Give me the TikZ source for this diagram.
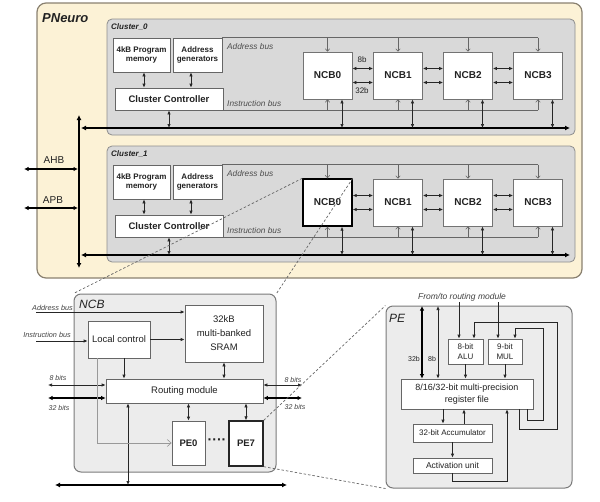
\documentclass[tikz,border=0pt]{standalone}
\usepackage{fontspec}
\setmainfont{Liberation Sans}
\usetikzlibrary{arrows.meta,calc}
\definecolor{pnfill}{HTML}{FCF2D6}
\definecolor{pndraw}{HTML}{8A8170}
\definecolor{clfill}{HTML}{D9D9D9}
\definecolor{cldraw}{HTML}{8E8E8E}
\definecolor{bxfill}{HTML}{ECECEC}
\definecolor{bxdraw}{HTML}{7A7A7A}
\definecolor{txt}{HTML}{222222}
\newcommand\myfs[1]{\fontsize{#1}{#1}\selectfont}
\tikzset{
  pnbox/.style={draw=pndraw, fill=pnfill, line width=1.2pt, rounded corners=9pt},
  clbox/.style={draw=cldraw, fill=clfill, line width=0.8pt, rounded corners=5pt},
  nbox/.style={draw=bxdraw, fill=bxfill, line width=1pt, rounded corners=7pt},
  sbox/.style={draw=black!60, fill=white, line width=0.7pt, align=center, text=txt, font=\bfseries\fontsize{8}{9}\selectfont, inner sep=1pt},
  ccbox/.style={draw=black!60, fill=white, line width=0.7pt, text=txt, font=\bfseries\myfs{9.5}, inner sep=1pt},
  ncbbox/.style={draw=black!55, fill=white, line width=0.7pt, text=txt, minimum width=49, minimum height=47, font=\bfseries\myfs{10}},
  ibox/.style={draw=black!60, fill=white, line width=0.7pt, align=center, text=txt, font=\fontsize{9.5}{14}\selectfont, inner sep=1pt},
  pbox/.style={draw=black!60, fill=white, line width=0.7pt, text=txt, font=\bfseries\myfs{9.5}, inner sep=1pt},
  qbox/.style={draw=black!60, fill=white, line width=0.7pt, align=center, text=txt, font=\fontsize{8}{10}\selectfont, inner sep=1pt},
  cllab/.style={anchor=west, text=txt, font=\bfseries\itshape\myfs{8}, inner sep=0},
  seclab/.style={anchor=west, text=txt, font=\itshape\myfs{12}, inner sep=0},
  pnlab/.style={anchor=west, text=txt, font=\bfseries\itshape\myfs{13}, inner sep=0},
  buslab/.style={anchor=west, text=black!70, font=\itshape\myfs{8.3}, inner sep=0},
  lbl/.style={text=black!75, font=\itshape\myfs{7.3}, inner sep=0},
  plain/.style={text=txt, font=\myfs{10}, inner sep=0},
  bl/.style={draw=black!60, line width=0.6pt},
  barb/.style={-{Straight Barb[length=2.5pt,width=4.5pt]}},
  arr/.style={draw=black!85, line width=0.7pt, {Latex[length=4pt,width=3.4pt]}-{Latex[length=4pt,width=3.4pt]}},
  arrs/.style={draw=black!85, line width=0.7pt, -{Latex[length=4pt,width=3.4pt]}},
  bus/.style={draw=black, line width=2.6pt, {Latex[length=5pt,width=5pt]}-{Latex[length=5pt,width=5pt]}},
  hbus/.style={draw=black, line width=1.8pt, {Latex[length=4.5pt,width=4.5pt]}-{Latex[length=4.5pt,width=4.5pt]}},
  zoomln/.style={draw=black!60, line width=0.7pt, dash pattern=on 2.5pt off 2pt},
}
\newcommand\mycluster[3]{%
\begin{scope}[yshift=#2]
\node[clbox, minimum width=468, minimum height=116] (cl#1) at (341,77) {};
\node[cllab] (cll#1) at (111,27.5) {Cluster\_#1};
\node[sbox, minimum width=57, minimum height=34] (pm#1) at (141.5,55) {4kB Program\\memory};
\node[sbox, minimum width=49, minimum height=34] (ag#1) at (197.5,55) {Address\\generators};
\node[ccbox, minimum width=108, minimum height=22] (cc#1) at (169,99) {Cluster Controller};
\node[ncbbox,#3] (c#1n0) at (327.5,75.5) {NCB0};
\node[ncbbox] (c#1n1) at (398,75.5) {NCB1};
\node[ncbbox] (c#1n2) at (468,75.5) {NCB2};
\node[ncbbox] (c#1n3) at (538,75.5) {NCB3};
\node[buslab] (ab#1) at (227,47) {Address bus};
\node[buslab] (ib#1) at (227,103.5) {Instruction bus};
\coordinate (pmx#1) at (144,0);
\coordinate (agx#1) at (191,0);
\coordinate (bl#1) at (81,128);
\coordinate (br#1) at (570,128);
\end{scope}
\draw[bl] (ag#1.north east) -- (ag#1.north east -| c#1n3.north);
\draw[bl] (cc#1.south east) -- (cc#1.south east -| c#1n3.south);
\draw[bus] (bl#1) -- (br#1);
\foreach \i in {0,...,3}{
  \draw[bl, barb] (c#1n\i.north |- ag#1.north east) -- (c#1n\i.north);
  \draw[bl, barb] (c#1n\i.south |- cc#1.south east) -- (c#1n\i.south);
  \path (c#1n\i.south) ++(14.5,0) coordinate (d#1\i);
  \draw[arr] (d#1\i) -- (d#1\i |- bl#1);
}
\foreach \i/\j in {0/1,1/2,2/3}{
  \draw[arr] ([yshift=7pt]c#1n\i.east) -- ([yshift=7pt]c#1n\j.west);
  \draw[arr] ([yshift=-7pt]c#1n\i.east) -- ([yshift=-7pt]c#1n\j.west);
}
\draw[arr] (pmx#1 |- pm#1.south) -- (pmx#1 |- cc#1.north);
\draw[arr] (agx#1 |- ag#1.south) -- (agx#1 |- cc#1.north);
\draw[arr] (cc#1.south) -- (cc#1.south |- bl#1);
}
\begin{document}
\begin{tikzpicture}[x=1pt,y=-1pt]
\useasboundingbox (0,0) rectangle (600,501);
% PNeuro
\node[pnbox, minimum width=545, minimum height=275] (pn) at (309.5,140.5) {};
\node[pnlab] (pnl) at (42,18) {PNeuro};
\mycluster{0}{0pt}{}
\mycluster{1}{-127pt}{draw=black, line width=1.4pt}
\node[plain, font=\myfs{8}] (l8b) at (362,60) {8b};
\node[plain, font=\myfs{8}] (l32b) at (362,91) {32b};
% system bus
\coordinate (vt) at (79,115);
\coordinate (vb) at (79,268);
\draw[bus] (vt) -- (vb);
\coordinate (ahbl) at (24,169);
\coordinate (ahbr) at (78,169);
\coordinate (apbl) at (24,208);
\coordinate (apbr) at (78,208);
\draw[hbus] (ahbl) -- (ahbr);
\draw[hbus] (apbl) -- (apbr);
\node[plain] (ahbt) at (54,160) {AHB};
\node[plain] (apbt) at (53,200) {APB};
% NCB detail
\node[nbox, minimum width=202, minimum height=178] (ncb) at (175,383) {};
\node[seclab] (ncbl) at (79,304) {NCB};
\node[lbl, anchor=east] (nabl) at (73,308) {Address bus};
\node[lbl, anchor=east] (nibl) at (71,335) {Instruction bus};
\node[ibox, minimum width=62, minimum height=37] (lc) at (119,339.5) {Local control};
\node[ibox, minimum width=78, minimum height=57] (sram) at (224,333.5) {32kB\\multi-banked\\SRAM};
\node[ibox, minimum width=157, minimum height=24] (rm) at (184.5,391) {Routing module};
\node[pbox, minimum width=33, minimum height=44] (pe0) at (188.5,443) {PE0};
\node[pbox, minimum width=34, minimum height=45, draw=black!85, line width=1.4pt] (pe7) at (246,443.5) {PE7};
\node[plain, font=\bfseries\myfs{14}] (dots) at (217,442) {····};
\coordinate (nab) at (36,312);
\coordinate (nib) at (36,341);
\coordinate (l8) at (48,385);
\coordinate (l32) at (48,398);
\coordinate (r8) at (302,385);
\coordinate (r32) at (302,398);
\coordinate (nbL) at (55,485);
\coordinate (nbR) at (287,485);
\coordinate (nbx) at (128,485);
\coordinate (lcx) at (124,0);
\coordinate (lcd) at (97,0);
\draw[bl, arrs] (nab) -- (nab -| sram.west);
\draw[bl, arrs] (nib) -- (nib -| lc.west);
\draw[bl, arrs] (lc.east) -- (lc.east -| sram.west);
\draw[arrs] (lcx |- lc.south) -- (lcx |- rm.north);
\draw[arr] (sram.south) -- (sram.south |- rm.north);
\draw[arr] (l8) -- (l8 -| rm.west);
\draw[hbus] (l32) -- (l32 -| rm.west);
\draw[arr] (r8) -- (r8 -| rm.east);
\draw[hbus] (r32) -- (r32 -| rm.east);
\draw[bus] (nbL) -- (nbR);
\draw[arr] (nbx |- rm.south) -- (nbx);
\draw[arr] (pe0.north |- rm.south) -- (pe0.north);
\draw[arr] (pe7.north |- rm.south) -- (pe7.north);
\draw[draw=black!40, line width=0.6pt, -{Straight Barb[length=4pt,width=7pt]}] (lcd |- lc.south) |- (pe0.west);
\node[lbl, font=\itshape\myfs{7}] (l8t) at (58,378) {8 bits};
\node[lbl, font=\itshape\myfs{7}] (l32t) at (59,408) {32 bits};
\node[lbl, font=\itshape\myfs{7}] (r8t) at (293,380) {8 bits};
\node[lbl, font=\itshape\myfs{7}] (r32t) at (295,407) {32 bits};
% PE detail
\node[nbox, minimum width=186, minimum height=182] (pe) at (479,397) {};
\node[seclab] (pel) at (389,318) {PE};
\node[lbl, font=\itshape\myfs{8.5}] (ftl) at (462,297) {From/to routing module};
\node[qbox, minimum width=35, minimum height=25] (alu) at (465.5,351.5) {8-bit\\ALU};
\node[qbox, minimum width=34, minimum height=25] (mul) at (505,351.5) {9-bit\\MUL};
\node[qbox, minimum width=132, minimum height=30, font=\fontsize{9}{11.5}\selectfont] (rf) at (467,394) {8/16/32-bit multi-precision\\register file};
\node[qbox, minimum width=79, minimum height=18] (acc) at (452.5,433) {32-bit Accumulator};
\node[qbox, minimum width=79, minimum height=15, font=\myfs{8.5}] (act) at (452.5,465.5) {Activation unit};
\coordinate (p32) at (422,306);
\coordinate (p8) at (438,306);
\coordinate (fa) at (459,302);
\coordinate (fm) at (498,302);
\coordinate (lp1) at (543,328);
\coordinate (lp2) at (557,322);
\coordinate (x527) at (527,420);
\coordinate (x519) at (519,429);
\coordinate (ax474) at (474,0);
\coordinate (mx515) at (515,0);
\coordinate (rx443) at (443,0);
\coordinate (rx464) at (464,0);
\coordinate (ar) at (507,481);
\draw[hbus, line width=2.2pt] (p32) -- (p32 |- rf.north);
\draw[arr] (p8) -- (p8 |- rf.north);
\node[plain, font=\myfs{7}] (t32b) at (414,359) {32b};
\node[plain, font=\myfs{7}] (t8b) at (432,359) {8b};
\draw[arrs] (fa) -- (fa |- alu.north);
\draw[arrs] (fm) -- (fm |- mul.north);
\draw[arrs] (alu.south) -- (alu.south |- rf.north);
\draw[arrs] (mul.south) -- (mul.south |- rf.north);
\draw[arrs] (x527 |- rf.south) -- (x527) -| (lp1) -| (mx515 |- mul.north);
\draw[arrs] (x519 |- rf.south) -- (x519) -| (lp2) -| (ax474 |- alu.north);
\draw[arrs] (rx443 |- rf.south) -- (rx443 |- acc.north);
\draw[arrs] (rx464 |- acc.north) -- (rx464 |- rf.south);
\draw[arrs] (acc.south) -- (act.north);
\draw[arrs] (act.south) |- (ar) -- (ar |- rf.south);
% zoom lines
\draw[zoomln] (c1n0.north west) -- (ncb.north west);
\draw[zoomln] (c1n0.north east) -- (ncb.north east);
\draw[zoomln] (pe7.north east) -- (pe.north west);
\draw[zoomln] (pe7.south east) -- (pe.south west);
\end{tikzpicture}
\end{document}
